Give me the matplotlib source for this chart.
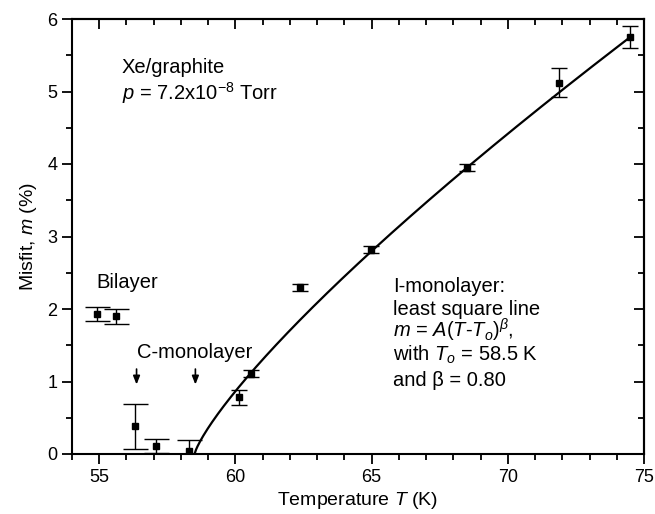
import matplotlib
matplotlib.use("Agg")
import matplotlib.pyplot as plt
import numpy as np
from matplotlib.ticker import MultipleLocator

plt.rcParams['font.family'] = ['Liberation Sans', 'DejaVu Sans']
plt.rcParams['mathtext.fontset'] = 'custom'
plt.rcParams['mathtext.rm'] = 'Liberation Sans'
plt.rcParams['mathtext.it'] = 'Liberation Sans:italic'
plt.rcParams['mathtext.bf'] = 'Liberation Sans:bold'

# Bilayer + C-monolayer data
T_low = [54.93, 55.62, 56.33, 57.10, 58.28]
m_low = [1.93, 1.90, 0.38, 0.11, 0.04]
e_low = [0.10, 0.10, 0.31, 0.10, 0.15]

# I-monolayer data
T_inc = [60.14, 60.56, 62.37, 64.97, 68.49, 71.88, 74.48]
m_inc = [0.78, 1.11, 2.30, 2.82, 3.95, 5.12, 5.75]
e_inc = [0.10, 0.05, 0.05, 0.05, 0.05, 0.20, 0.15]

# least-square fit parameters m = A (T - T0)^beta
A_fit = 0.626
T0_fit = 58.5
beta_fit = 0.80
T_fit_end = 74.5

# arrow positions (C-monolayer)
arrow_T = [56.37, 58.53]

fig = plt.figure(figsize=(6.55, 5.14), dpi=100)
ax = fig.add_axes([72/655, 60/514, 572/655, 435/514])

ax.errorbar(T_low, m_low, yerr=e_low, fmt='s', color='black', ms=5,
            elinewidth=1.0, capsize=9, capthick=1.0)
ax.errorbar(T_inc, m_inc, yerr=e_inc, fmt='s', color='black', ms=5,
            elinewidth=1.0, capsize=5.5, capthick=1.0)

Tf = np.linspace(T0_fit, T_fit_end, 300)
ax.plot(Tf, A_fit * (Tf - T0_fit) ** beta_fit, color='black', lw=1.6)

ax.set_xlim(54, 75)
ax.set_ylim(0, 6)
ax.xaxis.set_major_locator(MultipleLocator(5))
ax.xaxis.set_minor_locator(MultipleLocator(1))
ax.yaxis.set_major_locator(MultipleLocator(1))
ax.yaxis.set_minor_locator(MultipleLocator(0.5))
for s in ax.spines.values():
    s.set_linewidth(1.5)
ax.tick_params(which='major', direction='out', length=7, width=1.3, labelsize=13)
ax.tick_params(which='minor', direction='out', length=4, width=1.3)

secx = ax.secondary_xaxis('top')
secx.xaxis.set_major_locator(MultipleLocator(5))
secx.xaxis.set_minor_locator(MultipleLocator(1))
secx.tick_params(which='major', direction='in', length=7, width=1.3, labeltop=False)
secx.tick_params(which='minor', direction='in', length=4, width=1.3)
secx.spines['top'].set_linewidth(1.5)
secy = ax.secondary_yaxis('right')
secy.yaxis.set_major_locator(MultipleLocator(1))
secy.yaxis.set_minor_locator(MultipleLocator(0.5))
secy.tick_params(which='major', direction='in', length=7, width=1.3, labelright=False)
secy.tick_params(which='minor', direction='in', length=4, width=1.3)
secy.spines['right'].set_linewidth(1.5)

ax.set_xlabel('Temperature $T$ (K)', fontsize=14, labelpad=3)
ax.set_ylabel('Misfit, $m$ (%)', fontsize=14, labelpad=6)

fs = 14.5
ax.text(55.82, 5.25, 'Xe/graphite', fontsize=fs, va='baseline')
ax.text(55.82, 4.88, '$p$ = 7.2x10$^{-8}$ Torr', fontsize=fs, va='baseline')
ax.text(54.88, 2.29, 'Bilayer', fontsize=fs, va='baseline')
ax.text(56.4, 1.32, 'C-monolayer', fontsize=fs, va='baseline')

for ta in arrow_T:
    ax.annotate('', xy=(ta, 0.92), xytext=(ta, 1.21),
                arrowprops=dict(arrowstyle='-|>,head_length=0.5,head_width=0.2',
                                color='black', lw=1.2))

x0 = 65.78
lines = ['I-monolayer:', 'least square line',
         '$m$ = $A$($T$-$T_o$)$^{\\beta}$,',
         'with $T_o$ = 58.5 K', 'and \u03b2 = 0.80']
ys = [2.23, 1.92, 1.61, 1.29, 0.94]
for s, yv in zip(lines, ys):
    ax.text(x0, yv, s, fontsize=fs, va='baseline')

fig.savefig('out.png', dpi=100)
